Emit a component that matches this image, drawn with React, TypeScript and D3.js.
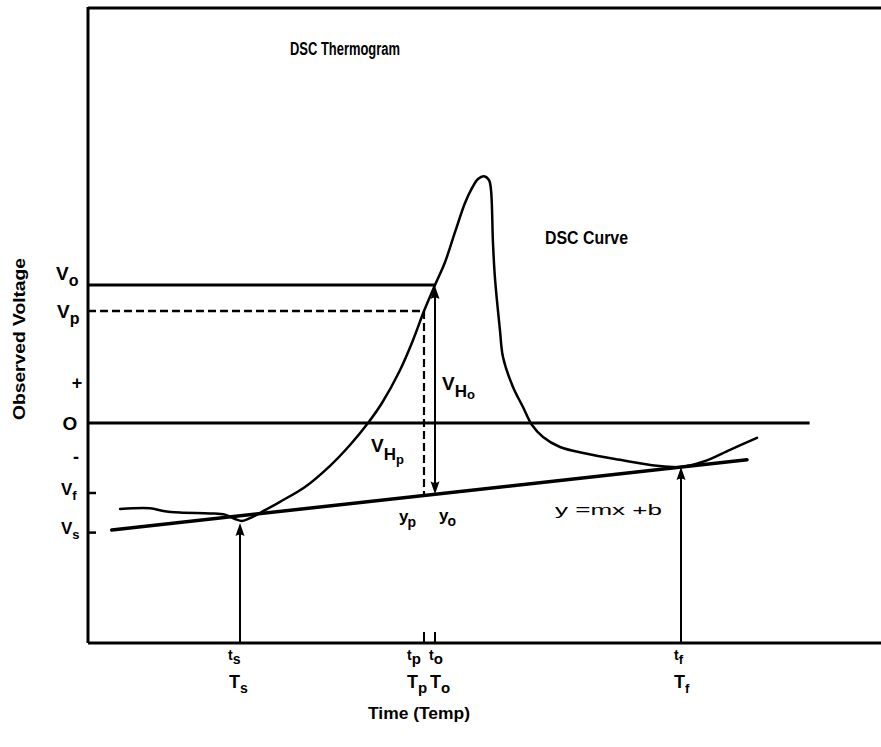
import React from 'react';
import * as d3 from 'd3';

// DSC curve samples: time (arbitrary units) and observed voltage (arbitrary units)
const curveTime = [
  4.04, 7.82, 9.5, 11.6, 15.38, 17.28, 18.54, 19.42, 20.43, 21.94, 24.21, 27.36,
  30.52, 33.04, 35.31, 37.07, 39.34, 40.98, 42.37, 43.76, 45.02, 46.28, 47.54,
  48.42, 49.18, 49.93, 50.57, 50.82, 51.07, 51.32, 51.95, 52.33, 53.59, 54.85,
  55.99, 57.38, 59.52, 62.93, 67.09, 71.75, 74.78, 77.55, 80.96, 84.36,
];
const curveVolt = [
  -2.15, -2.13, -2.2, -2.24, -2.26, -2.29, -2.4, -2.45, -2.38, -2.22, -1.97, -1.6,
  -1.07, -0.55, 0.0, 0.5, 1.32, 2.07, 2.8, 3.45, 4.02, 4.77, 5.5,
  5.87, 6.1, 6.17, 6.07, 5.82, 4.5, 3.62, 2.32, 1.65, 0.9, 0.4,
  -0.05, -0.35, -0.6, -0.77, -0.92, -1.07, -1.1, -0.97, -0.67, -0.37,
];

// Linear baseline y = mx + b
const baselineSlope = 0.0219;
const baselineIntercept = -2.74;
const baselineExtent = [3.0, 83.1];

// Characteristic times
const tS = 19.17;
const tP = 42.37;
const tO = 43.76;
const tF = 74.78;

// Characteristic voltages
const vO = 3.45;
const vP = 2.8;
const vF = -1.75;
const vS = baselineIntercept;
const zeroLineEnd = 91.0;

const xDomain = [0, 100];
const yDomain = [-5.5, 10.4];

const W = 881;
const H = 747;
const FONT = "'Liberation Sans', 'DejaVu Sans', sans-serif";

function arrowHead(x: number, y: number, dir: 1 | -1, w = 4.5, len = 13) {
  // dir = -1: points up (tip at top); dir = 1: points down
  const by = y - dir * len;
  return `M${x},${y} L${x - w},${by} Q${x},${by + dir * 3} ${x + w},${by} Z`;
}

export default function App() {
  const x = d3.scaleLinear().domain(xDomain).range([88, 881]);
  const y = d3.scaleLinear().domain(yDomain).range([643, 7]);

  const pts: [number, number][] = curveTime.map((t, i) => [t, curveVolt[i]]);
  const curvePath = d3
    .line<[number, number]>()
    .x((d) => x(d[0]))
    .y((d) => y(d[1]))
    .curve(d3.curveCatmullRom.alpha(0.5))(pts) as string;

  const base = (t: number) => baselineSlope * t + baselineIntercept;
  const baselinePath = d3
    .line<number>()
    .x((t) => x(t))
    .y((t) => y(base(t)))(baselineExtent) as string;

  const x0 = x(xDomain[0]);
  const yBottom = y(yDomain[0]);
  const yTop = y(yDomain[1]);

  const label = { fontFamily: FONT, fontWeight: 700, fill: '#000' } as const;

  const sub = (main: string, s: string, px: number, py: number, size: number, subSize: number, dx = 0) => (
    <text x={px} y={py} fontSize={size} {...label}>
      {main}
      <tspan dx={dx} dy={size * 0.3} fontSize={subSize}>{s}</tspan>
    </text>
  );

  const curveAtTs = -2.5;
  const curveAtTf = base(tF);

  return (
    <svg
      width={W}
      height={H}
      viewBox={`0 0 ${W} ${H}`}
      style={{ position: 'absolute', left: 0, top: 0, background: '#fff' }}
    >
      <rect x={0} y={0} width={W} height={H} fill="#fff" />

      {/* frame */}
      <line x1={x0} x2={W} y1={yTop + 1} y2={yTop + 1} stroke="#000" strokeWidth={3} />
      <line x1={x0} x2={x0} y1={yTop} y2={yBottom} stroke="#000" strokeWidth={3} />
      <line x1={x0} x2={W} y1={yBottom} y2={yBottom} stroke="#000" strokeWidth={3} />

      {/* reference voltages */}
      <line x1={x0} x2={x(tO)} y1={y(vO)} y2={y(vO)} stroke="#000" strokeWidth={3} />
      <line x1={x0} x2={x(tP)} y1={y(vP)} y2={y(vP)} stroke="#000" strokeWidth={2.5} strokeDasharray="8 4" />
      <line x1={x0} x2={x(zeroLineEnd)} y1={y(0)} y2={y(0)} stroke="#000" strokeWidth={3} />
      <line x1={x0} x2={x0 + 8} y1={y(vF)} y2={y(vF)} stroke="#000" strokeWidth={2.5} />
      <line x1={x0} x2={x0 + 8} y1={y(vS)} y2={y(vS)} stroke="#000" strokeWidth={2.5} />

      {/* baseline and DSC curve */}
      <path d={baselinePath} fill="none" stroke="#000" strokeWidth={3.5} strokeLinecap="round" />
      <path d={curvePath} fill="none" stroke="#000" strokeWidth={2.5} strokeLinecap="round" strokeLinejoin="round" />

      {/* V_Hp dashed drop */}
      <line x1={x(tP)} x2={x(tP)} y1={y(vP)} y2={y(base(tP))} stroke="#000" strokeWidth={2.2} strokeDasharray="8 4" />
      {/* V_Ho double arrow */}
      <line x1={x(tO)} x2={x(tO)} y1={y(vO) + 4} y2={y(base(tO)) - 4} stroke="#000" strokeWidth={2} />
      <path d={arrowHead(x(tO), y(vO) + 1, -1)} fill="#000" />
      <path d={arrowHead(x(tO), y(base(tO)), 1)} fill="#000" />

      {/* t_s and t_f arrows */}
      <line x1={x(tS)} x2={x(tS)} y1={yBottom} y2={y(curveAtTs) + 6} stroke="#000" strokeWidth={2} />
      <path d={arrowHead(x(tS), y(curveAtTs), -1)} fill="#000" />
      <line x1={x(tF)} x2={x(tF)} y1={yBottom} y2={y(curveAtTf) + 6} stroke="#000" strokeWidth={2} />
      <path d={arrowHead(x(tF), y(curveAtTf), -1)} fill="#000" />

      {/* ticks for t_p and t_o */}
      <line x1={x(tP)} x2={x(tP)} y1={yBottom} y2={yBottom - 11} stroke="#000" strokeWidth={2} />
      <line x1={x(tO)} x2={x(tO)} y1={yBottom} y2={yBottom - 11} stroke="#000" strokeWidth={2} />

      {/* titles */}
      <text x={345} y={55} textAnchor="middle" fontSize={18} textLength={110} lengthAdjust="spacingAndGlyphs" {...label}>
        DSC Thermogram
      </text>
      <text x={545} y={244} fontSize={18} textLength={83} lengthAdjust="spacingAndGlyphs" {...label}>
        DSC Curve
      </text>
      <text
        transform={`translate(25, ${(258 + 420) / 2}) rotate(-90)`}
        textAnchor="middle"
        fontSize={17}
        textLength={162}
        lengthAdjust="spacingAndGlyphs"
        {...label}
      >
        Observed Voltage
      </text>
      <text x={419} y={719} textAnchor="middle" fontSize={17} textLength={102} lengthAdjust="spacingAndGlyphs" {...label}>
        Time (Temp)
      </text>

      {/* voltage axis labels */}
      {sub('V', 'o', 56, y(vO) - 5, 19, 16)}
      {sub('V', 'p', 57, y(vP) + 7, 19, 16)}
      <text x={77} y={y(1.0) + 6} textAnchor="middle" fontSize={18} {...label}>+</text>
      <text x={70} y={y(0) + 7} textAnchor="middle" fontSize={19} {...label}>O</text>
      <text x={76} y={y(-0.85) + 6} textAnchor="middle" fontSize={18} {...label}>-</text>
      {sub('V', 'f', 61, y(vF) + 2, 17, 13)}
      {sub('V', 's', 61, y(vS) + 1, 17, 13)}

      {/* in-plot labels */}
      <text x={442} y={390} fontSize={19} {...label}>
        V<tspan dy={7} fontSize={17}>H</tspan><tspan dy={2} fontSize={13}>o</tspan>
      </text>
      <text x={371} y={452} fontSize={19} {...label}>
        V<tspan dy={8} fontSize={17}>H</tspan><tspan dy={4} fontSize={13}>p</tspan>
      </text>
      {sub('y', 'p', 399, 522, 17, 14, -1)}
      {sub('y', 'o', 439, 521, 17, 14, -1)}
      <text x={555} y={515} fontSize={15} fontFamily={FONT} fontWeight={400} textLength={107} lengthAdjust="spacingAndGlyphs" fill="#000">
        y =mx +b
      </text>

      {/* time axis labels */}
      {sub('t', 's', x(tS) - 12, 660, 14, 14)}
      {sub('T', 's', x(tS) - 11, 688, 18, 14)}
      {sub('t', 'p', x(tP) - 17, 660, 14, 15)}
      {sub('t', 'o', x(tO) - 6, 660, 14, 15)}
      {sub('T', 'p', x(tP) - 17, 688, 18, 15)}
      {sub('T', 'o', x(tO) - 5, 688, 18, 15)}
      {sub('t', 'f', x(tF) - 7, 660, 14, 13)}
      {sub('T', 'f', x(tF) - 7, 688, 18, 13)}
    </svg>
  );
}
